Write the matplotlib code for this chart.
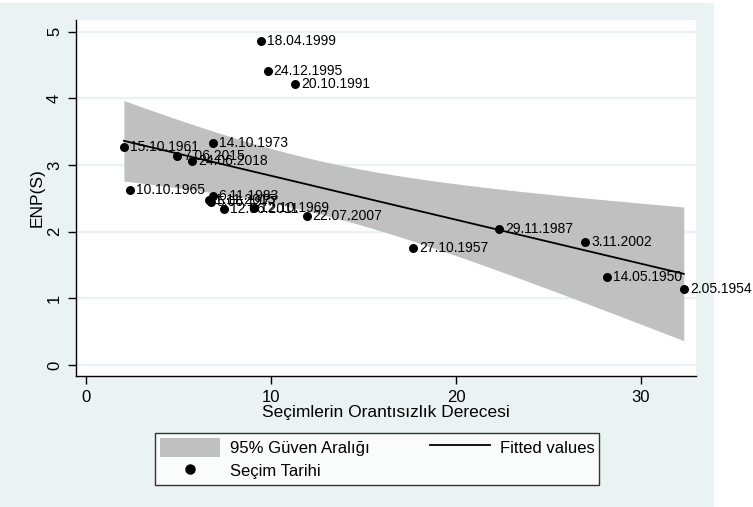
import numpy as np
import matplotlib
matplotlib.use("Agg")
import matplotlib.pyplot as plt
from matplotlib.patches import Rectangle, Patch
from matplotlib.lines import Line2D

# ---- data ----
dates = ["18.04.1999", "24.12.1995", "20.10.1991", "15.10.1961", "14.10.1973",
         "7.06.2015", "24.06.2018", "10.10.1965", "6.11.1983", "1.11.2015",
         "5.06.1977", "12.06.2011", "12.10.1969", "22.07.2007", "27.10.1957",
         "29.11.1987", "3.11.2002", "14.05.1950", "2.05.1954"]
disprop = [9.46, 9.82, 11.32, 2.05, 6.85,
           4.94, 5.73, 2.38, 6.84, 6.65,
           6.73, 7.48, 9.10, 11.93, 17.69,
           22.31, 26.99, 28.14, 32.31]
enp = [4.86, 4.41, 4.21, 3.27, 3.33,
       3.13, 3.06, 2.62, 2.54, 2.48,
       2.45, 2.34, 2.35, 2.24, 1.75,
       2.04, 1.84, 1.32, 1.14]
xticks = [0, 10, 20, 30]
yticks = [0, 1, 2, 3, 4, 5]

BG = "#eaf2f3"
W, H = 753, 507
fig = plt.figure(figsize=(W / 100, H / 100), dpi=100, facecolor="white")
plt.rcParams["font.family"] = ["Liberation Sans", "DejaVu Sans"]

fig.patches.append(Rectangle((0, 0), 714 / W, 504 / H, transform=fig.transFigure,
                             facecolor=BG, edgecolor="none", zorder=-10))

ax = fig.add_axes([76 / W, (H - 376) / H, (696 - 76) / W, (376 - 20) / H])
ax.set_facecolor("white")

x = np.array(disprop)
y = np.array(enp)
n = len(x)
b, a = np.polyfit(x, y, 1)
xs = np.linspace(x.min(), x.max(), 200)
yhat = a + b * xs
resid = y - (a + b * x)
s = np.sqrt(np.sum(resid ** 2) / (n - 2))
tcrit = 2.110  # t(0.975, 17)
se = s * np.sqrt(1 / n + (xs - x.mean()) ** 2 / np.sum((x - x.mean()) ** 2))
ax.fill_between(xs, yhat - tcrit * se, yhat + tcrit * se, color="#c0c0c0",
                linewidth=0, zorder=1)
ax.plot(xs, yhat, color="black", linewidth=1.3, zorder=2)
ax.scatter(x, y, s=42, color="black", zorder=3, linewidths=0)
for xi, yi, lab in zip(x, y, dates):
    ax.annotate(lab, (xi, yi), xytext=(6, 0), textcoords="offset pixels",
                ha="left", va="center", fontsize=10, color="black", zorder=4,
                annotation_clip=False)

ax.set_xlim(-0.54, 32.97)
ax.set_ylim(-0.165, 5.175)
ax.set_xticks(xticks)
ax.set_yticks(yticks)
ax.grid(axis="y", color=BG, linewidth=1.6, zorder=0)
ax.set_axisbelow(True)
for side in ["top", "right"]:
    ax.spines[side].set_visible(False)
for side in ["left", "bottom"]:
    ax.spines[side].set_linewidth(1.0)
    ax.spines[side].set_color("black")
ax.tick_params(axis="both", direction="out", length=6, width=1.0, labelsize=12,
               pad=4)
for lbl in ax.get_yticklabels():
    lbl.set_rotation(90)
    lbl.set_va("center")
ax.set_ylabel("ENP(S)", fontsize=12.5, labelpad=2)
ax.set_xlabel("Seçimlerin Orantısızlık Derecesi", fontsize=12.5, labelpad=0)

handles = [Patch(facecolor="#c0c0c0", edgecolor="none"),
           Line2D([], [], marker="o", color="black", linestyle="none", markersize=6.5),
           Line2D([], [], color="black", linewidth=1.3)]
labels = ["95% Güven Aralığı", "Seçim Tarihi", "Fitted values"]
leg = fig.legend(handles, labels, ncol=2, loc="center",
                 bbox_to_anchor=(377 / W, 1 - 459 / H), frameon=True,
                 fancybox=False, edgecolor="black", facecolor="white",
                 fontsize=12, handlelength=3.6, handleheight=1.35,
                 columnspacing=3.6, labelspacing=0.3, borderpad=0.3,
                 handletextpad=0.6, borderaxespad=0)
leg.get_frame().set_linewidth(1.0)

fig.savefig("out.png", dpi=100, facecolor="white")
